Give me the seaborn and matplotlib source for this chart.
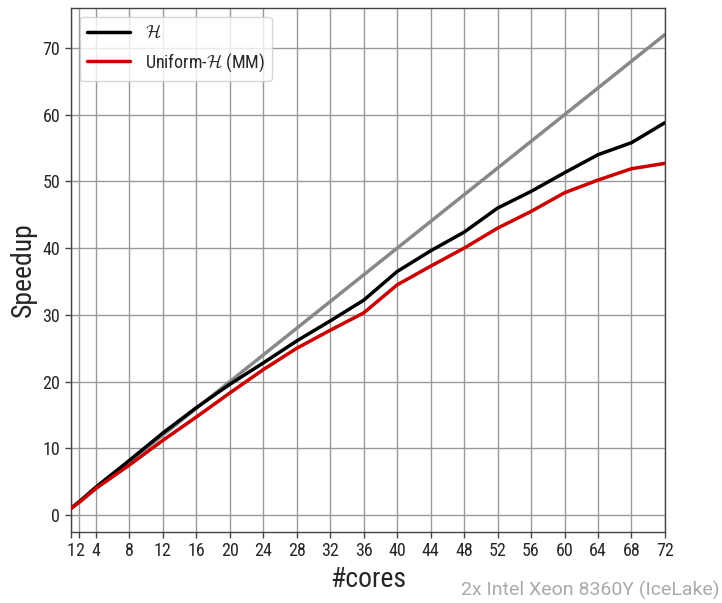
import numpy as np
import pandas as pd
import seaborn as sns
import matplotlib.pyplot as plt
from matplotlib import font_manager

# ======================== data ========================
cores = [1, 2, 4, 8, 12, 16, 20, 24, 28, 32, 36, 40, 44, 48, 52, 56, 60, 64, 68, 72]
speedup_h = [1.0, 2.0, 4.2, 8.2, 12.3, 16.1, 19.6, 22.8, 26.1, 29.1, 32.2, 36.5,
             39.6, 42.4, 46.0, 48.5, 51.3, 54.0, 55.8, 58.8]
speedup_uniform = [1.0, 1.9, 4.0, 7.5, 11.2, 14.7, 18.3, 21.8, 25.0, 27.7, 30.3, 34.5,
                   37.3, 40.0, 43.0, 45.5, 48.3, 50.2, 51.9, 52.7]
labels = [r'$\mathcal{H}$', r'Uniform-$\mathcal{H}$ (MM)']
colors = ['#000000', '#cc0000']
machine = '2x Intel Xeon 8360Y (IceLake)'

df = pd.DataFrame({
    'cores': cores * 2,
    'speedup': speedup_h + speedup_uniform,
    'variant': [labels[0]] * len(cores) + [labels[1]] * len(cores),
})

# narrow font if present
names = {f.name for f in font_manager.fontManager.ttflist}
main_family = 'Roboto'
for cand in ['Roboto Condensed', 'Liberation Sans Narrow']:
    if cand in names:
        main_family = cand
        break

# ======================== plot ========================
sns.set_style('white')
plt.rcParams['font.family'] = [main_family, 'DejaVu Sans']
plt.rcParams['mathtext.fontset'] = 'cm'

fig = plt.figure(figsize=(7.22, 6.03), dpi=100)
ax = fig.add_axes([0.098, 0.118, 0.823, 0.869])

# ideal speedup
ax.plot([1, 72], [1, 72], color='#888888', lw=2.5, zorder=2)

sns.lineplot(data=df, x='cores', y='speedup', hue='variant', palette=colors,
             hue_order=labels, lw=2.5, ax=ax, zorder=3)

ax.set_xlim(1, 72)
ax.set_ylim(-2.5, 76)
ax.set_xticks(cores)
ax.set_xticklabels([str(c) for c in cores])
ax.set_yticks(range(0, 71, 10))
ax.grid(True, color='#999999', lw=1)
ax.tick_params(axis='both', direction='out', length=4, width=1, color='#444444',
               labelsize=13, bottom=True, left=True)
for s in ax.spines.values():
    s.set_color('#444444')
    s.set_linewidth(1)

ax.set_xlabel('#cores', fontsize=20)
ax.set_ylabel('Speedup', fontsize=20)

leg = ax.legend(loc='upper left', fontsize=13, frameon=True, handlelength=2.4)
leg.get_frame().set_edgecolor('#cccccc')

fig.text(0.997, 0.005, machine, ha='right', va='bottom', color='#aaaaaa',
         fontsize=14, family=['Roboto', 'DejaVu Sans'])

plt.savefig('out.png', dpi=100)
plt.close()
